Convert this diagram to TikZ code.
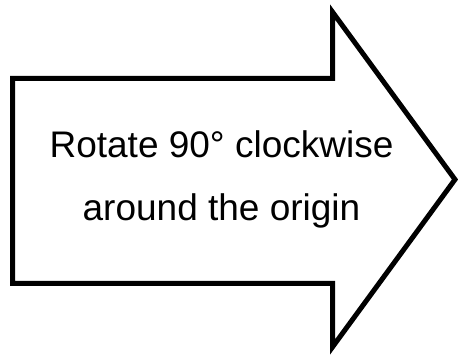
\documentclass[tikz,border=0pt]{standalone}
\usepackage{fontspec}
\setmainfont{Liberation Sans}
\tikzset{
  blockarrow/.style={draw=black, line width=5pt, fill=white, line join=miter},
  label/.style={font=\fontsize{37}{44}\selectfont, anchor=base, inner sep=0pt}
}
\begin{document}
\begin{tikzpicture}[x=1pt,y=-1pt]
\useasboundingbox (0,0) rectangle (458,358);
\draw[blockarrow] (12.5,78.5) -- (332.5,78.5) -- (332.5,12) -- (455,179.5) -- (332.5,347) -- (332.5,283.5) -- (12.5,283.5) -- cycle;
\node[label] (l1) at (221.5,158) {Rotate 90° clockwise};
\node[label] (l2) at (221.5,221) {around the origin};
\end{tikzpicture}
\end{document}
